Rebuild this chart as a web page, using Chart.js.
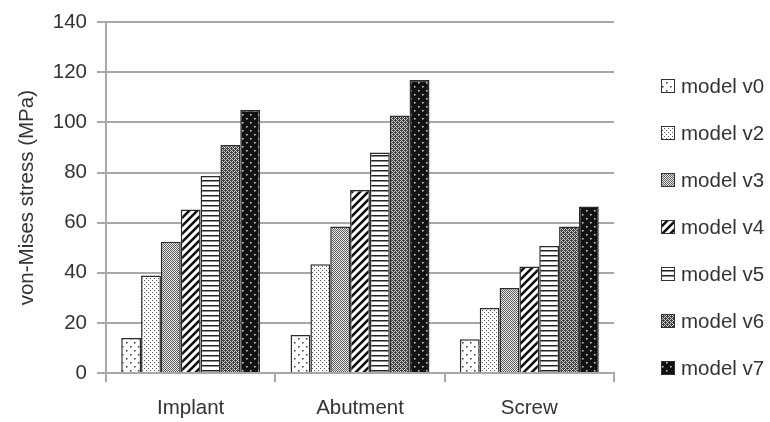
<!DOCTYPE html>
<html lang="en">
<head>
  <meta charset="UTF-8">
  <title>von-Mises stress by model</title>
  <script src="https://cdn.jsdelivr.net/npm/chart.js"></script>
  <style>
    html, body {
      margin: 0;
      padding: 0;
      background: #fff;
    }
    #wrap {
      width: 770px;
      height: 422px;
    }
  </style>
</head>
<body>
  <div id="wrap"><canvas id="stressChart" width="770" height="422"></canvas></div>

  <script>
    const categories = ["Implant", "Abutment", "Screw"];
    const models = ["model v0", "model v2", "model v3", "model v4", "model v5", "model v6", "model v7"];

    const v0 = [14, 15.2, 13.5];
    const v2 = [38.9, 43.4, 25.9];
    const v3 = [52.4, 58.5, 33.9];
    const v4 = [65.3, 73.1, 42.5];
    const v5 = [78.6, 88, 50.7];
    const v6 = [91, 102.8, 58.5];
    const v7 = [105, 117, 66.5];
    const seriesValues = [v0, v2, v3, v4, v5, v6, v7];

    const yTicks = [0, 20, 40, 60, 80, 100, 120, 140];

    // little tiles used as fill patterns, one per model
    function tile(w, h, draw) {
      const c = document.createElement("canvas");
      c.width = w;
      c.height = h;
      const g = c.getContext("2d");
      draw(g);
      return document.createElement("canvas").getContext("2d").createPattern(c, "repeat");
    }

    const patterns = [
      // v0: sparse dots
      tile(8, 8, g => {
        g.fillStyle = "#fff"; g.fillRect(0, 0, 8, 8);
        g.fillStyle = "#333";
        g.fillRect(2, 2, 1.5, 1.5);
        g.fillRect(6, 6, 1.5, 1.5);
      }),
      // v2: fine dots
      tile(4, 4, g => {
        g.fillStyle = "#fff"; g.fillRect(0, 0, 4, 4);
        g.fillStyle = "#555";
        g.fillRect(0, 0, 1, 1);
        g.fillRect(2, 2, 1, 1);
      }),
      // v3: grey checker
      tile(2, 2, g => {
        g.fillStyle = "#ececec"; g.fillRect(0, 0, 2, 2);
        g.fillStyle = "#5a5a5a";
        g.fillRect(0, 0, 1, 1);
        g.fillRect(1, 1, 1, 1);
      }),
      // v4: diagonal stripes
      tile(8, 8, g => {
        g.fillStyle = "#fff"; g.fillRect(0, 0, 8, 8);
        g.strokeStyle = "#111";
        g.lineWidth = 2.6;
        g.beginPath();
        g.moveTo(-2, 10); g.lineTo(10, -2);
        g.moveTo(-2, 2); g.lineTo(2, -2);
        g.moveTo(6, 10); g.lineTo(10, 6);
        g.stroke();
      }),
      // v5: horizontal lines
      tile(4, 5, g => {
        g.fillStyle = "#fff"; g.fillRect(0, 0, 4, 5);
        g.fillStyle = "#222";
        g.fillRect(0, 0, 4, 1.5);
      }),
      // v6: dark grey with light specks
      tile(4, 4, g => {
        g.fillStyle = "#3c3c3c"; g.fillRect(0, 0, 4, 4);
        g.fillStyle = "#d4d4d4";
        g.fillRect(1, 0, 1, 1); g.fillRect(0, 1, 1, 1);
        g.fillRect(3, 2, 1, 1); g.fillRect(2, 3, 1, 1);
        g.fillRect(2, 1, 1, 1); g.fillRect(0, 3, 1, 1);
      }),
      // v7: black with white dots
      tile(8, 8, g => {
        g.fillStyle = "#111"; g.fillRect(0, 0, 8, 8);
        g.fillStyle = "#ddd";
        g.fillRect(2, 2, 1.5, 1.5);
        g.fillRect(6, 6, 1.5, 1.5);
      })
    ];

    const gridGrey = "#a8a8a8";
    const textGrey = "#333";
    const font = { family: "'Liberation Sans', Arial, sans-serif", size: 20.5 };

    // legend on the right, drawn by hand so the spacing matches
    const sideLegend = {
      id: "sideLegend",
      afterDraw(chart) {
        const ctx = chart.ctx;
        ctx.save();
        ctx.font = font.size + "px " + font.family;
        ctx.textBaseline = "middle";
        ctx.textAlign = "left";
        chart.data.datasets.forEach((ds, i) => {
          const y = 86 + i * 47;
          ctx.fillStyle = ds.backgroundColor;
          ctx.fillRect(661, y - 7, 14, 14);
          ctx.strokeStyle = "#333";
          ctx.lineWidth = 1;
          ctx.strokeRect(661.5, y - 6.5, 13, 13);
          ctx.fillStyle = textGrey;
          ctx.fillText(ds.label, 681, y + 1);
        });
        ctx.restore();
      }
    };

    const ctx = document.getElementById("stressChart").getContext("2d");
    new Chart(ctx, {
      type: "bar",
      data: {
        labels: categories,
        datasets: models.map((m, i) => ({
          label: m,
          data: seriesValues[i],
          backgroundColor: patterns[i],
          borderColor: "#2a2a2a",
          borderWidth: 1.5,
          categoryPercentage: 0.82,
          barPercentage: 1.0
        }))
      },
      options: {
        responsive: false,
        animation: false,
        layout: {
          autoPadding: false,
          padding: { left: 0, right: 156, top: 18, bottom: 0 }
        },
        plugins: {
          legend: { display: false },
          tooltip: { enabled: false }
        },
        scales: {
          x: {
            grid: {
              display: true,
              drawOnChartArea: false,
              drawTicks: true,
              tickLength: 9,
              color: gridGrey,
              lineWidth: 2
            },
            border: { color: gridGrey, width: 2 },
            ticks: { color: textGrey, font: font, padding: 14 },
            afterFit(scale) { scale.height = 49; }
          },
          y: {
            min: 0,
            max: 140,
            afterBuildTicks(scale) {
              scale.ticks = yTicks.map(v => ({ value: v }));
            },
            grid: {
              color: gridGrey,
              lineWidth: 2,
              tickLength: 9
            },
            border: { color: gridGrey, width: 2 },
            ticks: { color: textGrey, font: font, padding: 10 },
            title: {
              display: true,
              text: "von-Mises stress (MPa)",
              color: textGrey,
              font: font,
              padding: { top: 15, bottom: 0 }
            },
            afterFit(scale) { scale.width = 106; }
          }
        }
      },
      plugins: [sideLegend]
    });
  </script>
</body>
</html>
